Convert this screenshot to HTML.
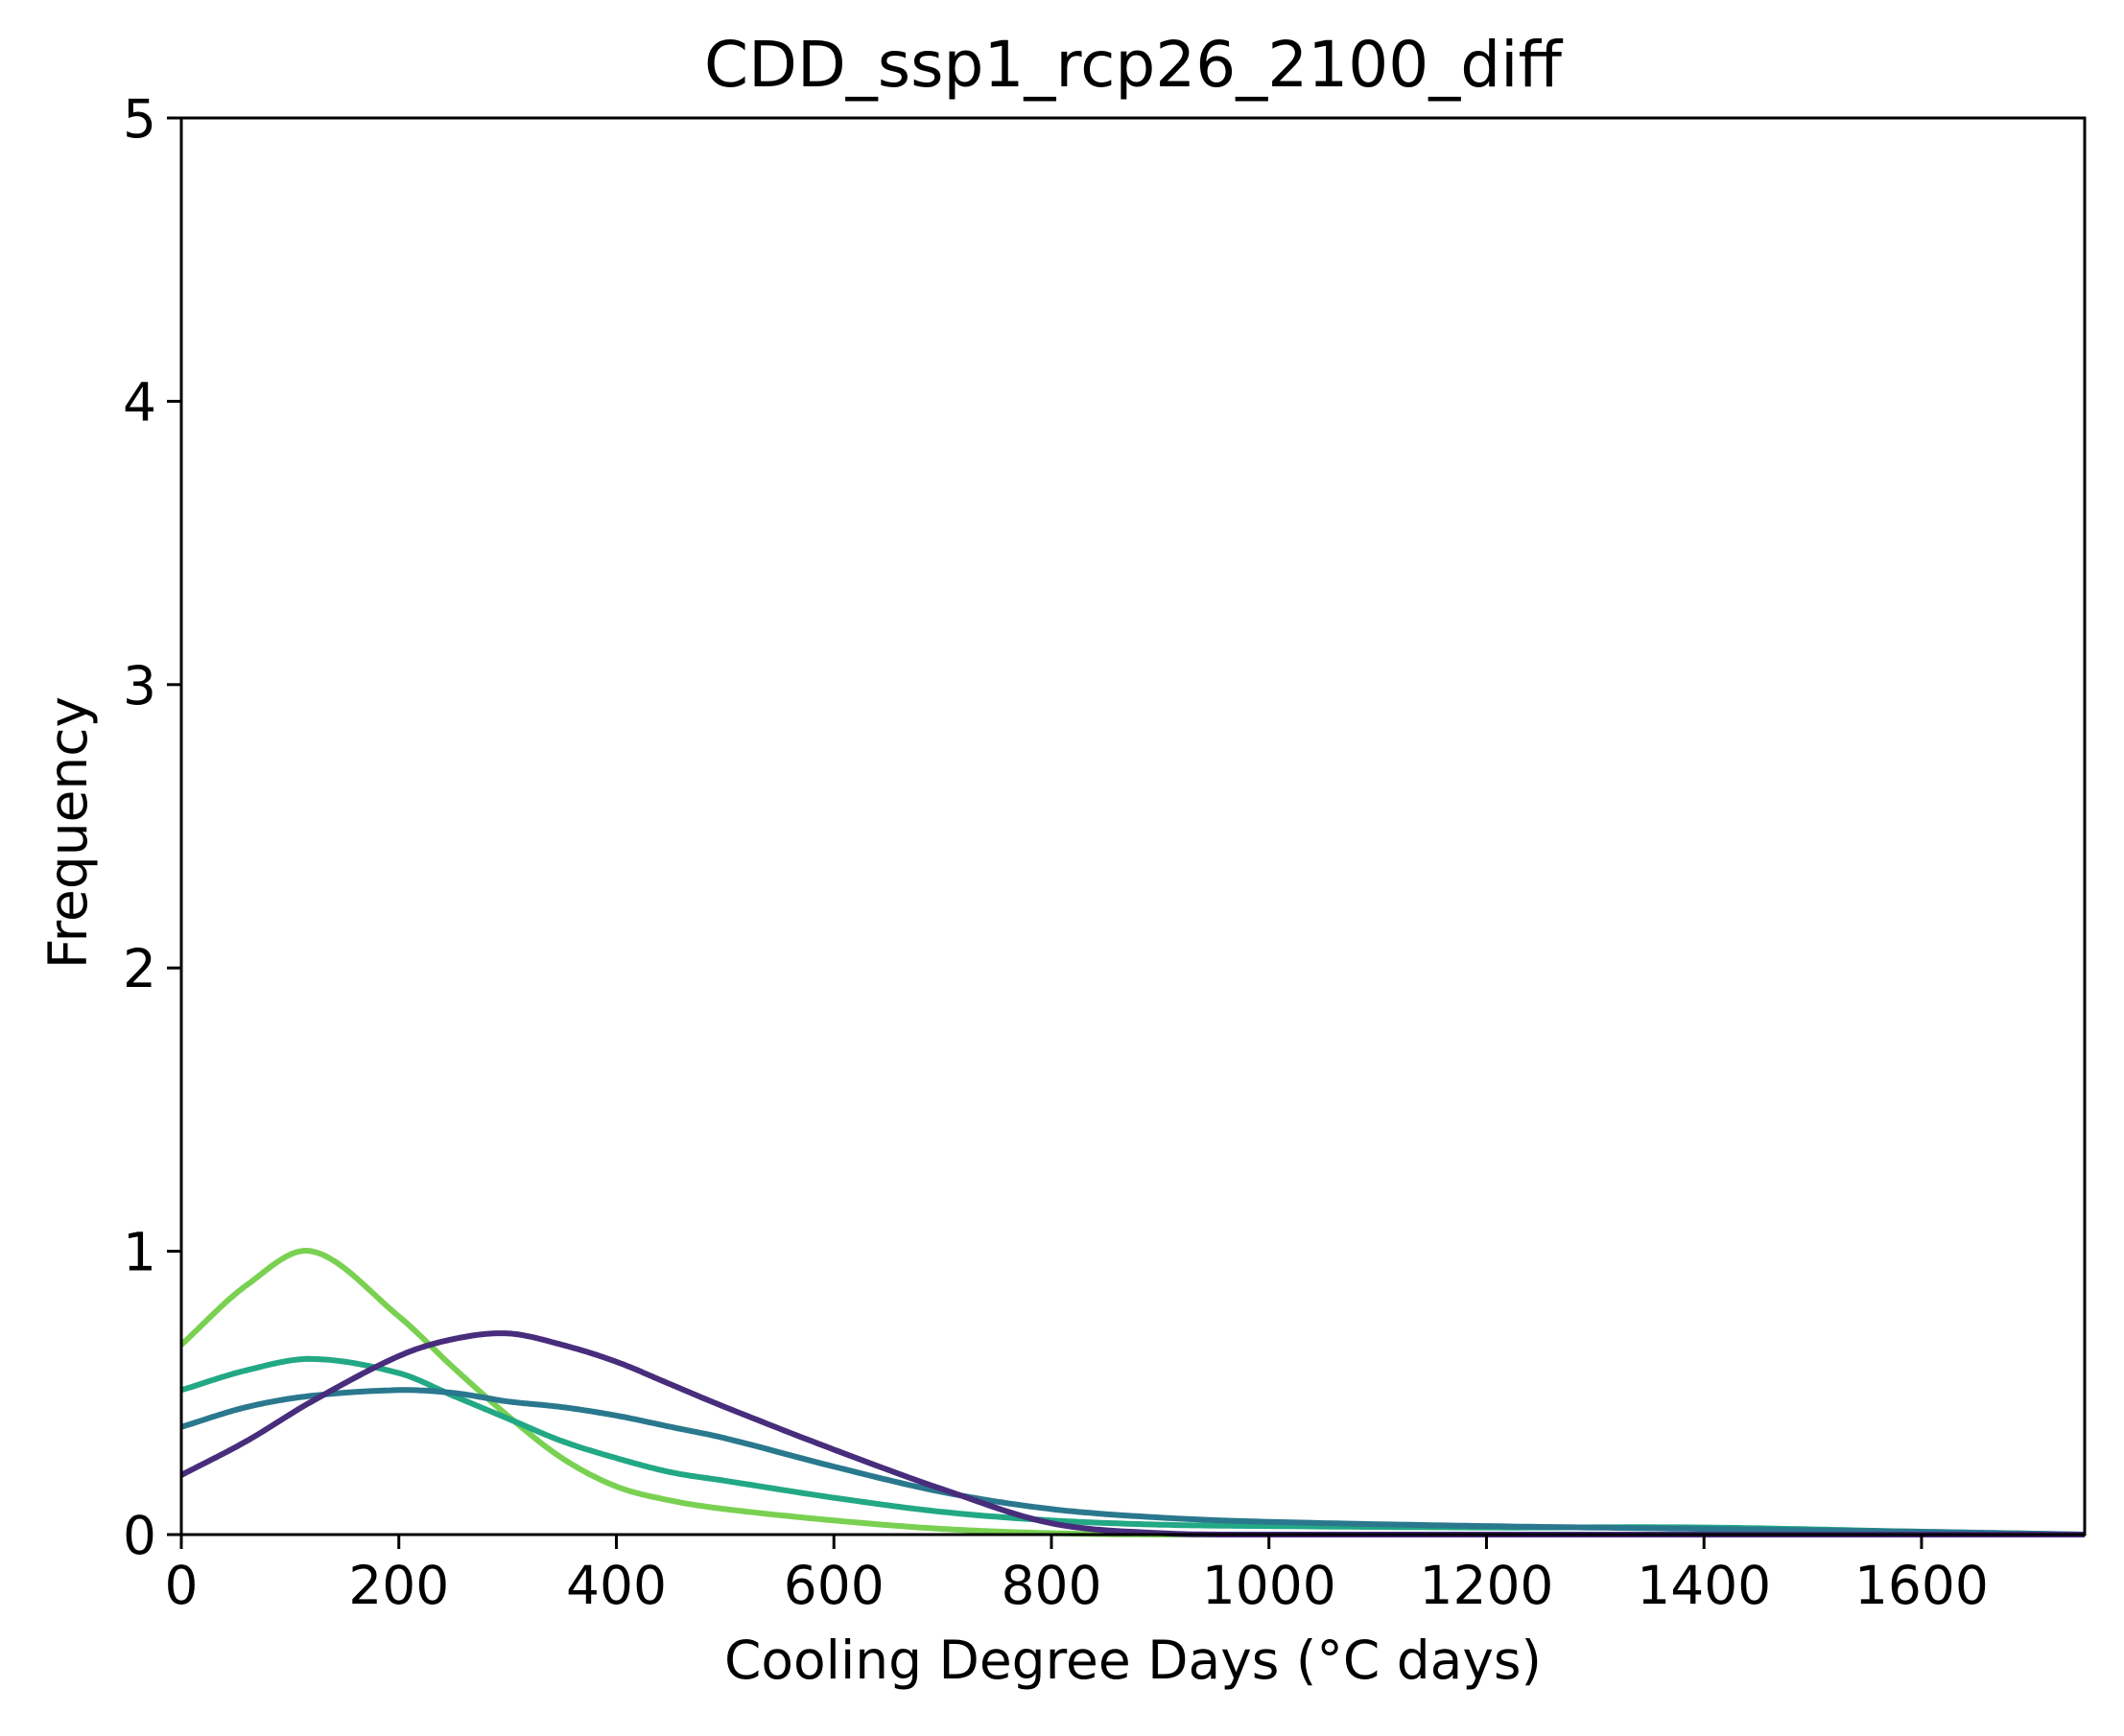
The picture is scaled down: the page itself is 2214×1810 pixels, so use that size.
<!DOCTYPE html>
<html><head><meta charset="utf-8"><style>
html,body{margin:0;padding:0;background:#fff;}
svg{display:block;font-family:"DejaVu Sans","Liberation Sans",sans-serif;}
</style></head><body>
<svg id="chart" width="2214" height="1810" viewBox="0 0 2214 1810">
<text x="1181" y="90" font-size="66" text-anchor="middle">CDD_ssp1_rcp26_2100_diff</text>
<g id="curves"></g>
<g id="axes"></g>
<text x="1181" y="1750" font-size="55" text-anchor="middle">Cooling Degree Days (°C days)</text>
<text x="0" y="0" font-size="55" text-anchor="middle" transform="translate(90,868) rotate(-90)">Frequency</text>
</svg>
<script>
const xTicks=[0,200,400,600,800,1000,1200,1400,1600];
const yTicks=[0,1,2,3,4,5];
const xs=[0,60,120,200,250,300,350,400,450,500,600,700,800,900,1000,1200,1400,1600,1750];
const greenVals=[0.67,0.88,1.0,0.77,0.59,0.42,0.27,0.17,0.12,0.09,0.05,0.02,0.005,0.0,0.0,0.0,0.0,0.0,0.0];
const tealVals=[0.51,0.58,0.62,0.57,0.49,0.41,0.33,0.27,0.22,0.19,0.13,0.08,0.05,0.035,0.03,0.025,0.025,0.01,0.0];
const blueVals=[0.38,0.45,0.49,0.51,0.50,0.47,0.45,0.42,0.38,0.34,0.24,0.15,0.09,0.06,0.045,0.03,0.02,0.01,0.0];
const purpleVals=[0.21,0.33,0.47,0.63,0.69,0.71,0.67,0.61,0.53,0.45,0.30,0.16,0.04,0.005,0.0,0.0,0.0,0.0,0.0];
const L=189,R=2173,T=123,B=1600,XMAX=1750,YMAX=5;
const sx=v=>L+(v/XMAX)*(R-L);
const sy=v=>B-(v/YMAX)*(B-T);
const NS="http://www.w3.org/2000/svg";
const curves=document.getElementById('curves');
const axes=document.getElementById('axes');
function pathFor(vals){
  const n=xs.length;
  const at=(i)=>[xs[Math.max(0,Math.min(n-1,i))],vals[Math.max(0,Math.min(n-1,i))]];
  let pts=[];
  for(let i=0;i<n-1;i++){
    const p0=at(i-1),p1=at(i),p2=at(i+1),p3=at(i+2);
    const t1=(i==0)?(p2[1]-p1[1])/(p2[0]-p1[0]):(p2[1]-p0[1])/(p2[0]-p0[0]);
    const t2=(i==n-2)?(p2[1]-p1[1])/(p2[0]-p1[0]):(p3[1]-p1[1])/(p3[0]-p1[0]);
    const h=p2[0]-p1[0];
    for(let k=0;k<20;k++){
      const t=k/20,h00=2*t*t*t-3*t*t+1,h10=t*t*t-2*t*t+t,h01=-2*t*t*t+3*t*t,h11=t*t*t-t*t;
      const y=h00*p1[1]+h10*h*t1+h01*p2[1]+h11*h*t2;
      pts.push([sx(p1[0]+t*h),sy(Math.max(0,y))]);
    }
  }
  pts.push([sx(xs[n-1]),sy(vals[n-1])]);
  return "M"+pts.map(p=>p[0].toFixed(1)+","+p[1].toFixed(1)).join(" L");
}
const series=[[greenVals,"#7ad151","curve-green"],[tealVals,"#22a884","curve-teal"],[blueVals,"#2a788e","curve-blue"],[purpleVals,"#472d7b","curve-purple"]];
series.forEach(s=>{
  const el=document.createElementNS(NS,'path');
  el.setAttribute('d',pathFor(s[0]));
  el.setAttribute('fill','none');el.setAttribute('stroke',s[1]);el.setAttribute('stroke-width','6');
  el.setAttribute('stroke-linejoin','round');
  
  
  curves.appendChild(el);
});
const frame=document.createElementNS(NS,'rect');
frame.setAttribute('x',L);frame.setAttribute('y',T);frame.setAttribute('width',R-L);frame.setAttribute('height',B-T);
frame.setAttribute('fill','none');frame.setAttribute('stroke','#000');frame.setAttribute('stroke-width','3');


axes.appendChild(frame);
xTicks.forEach(v=>{
  const t=document.createElementNS(NS,'line');
  t.setAttribute('x1',sx(v));t.setAttribute('x2',sx(v));t.setAttribute('y1',B);t.setAttribute('y2',B+15);
  t.setAttribute('stroke','#000');t.setAttribute('stroke-width','3');
  
  
  axes.appendChild(t);
  const tx=document.createElementNS(NS,'text');
  tx.setAttribute('x',sx(v));tx.setAttribute('y',B+72);tx.setAttribute('font-size','55');tx.setAttribute('text-anchor','middle');
  tx.textContent=v;
  
  
  axes.appendChild(tx);
});
yTicks.forEach(v=>{
  const t=document.createElementNS(NS,'line');
  t.setAttribute('x1',L-15);t.setAttribute('x2',L);t.setAttribute('y1',sy(v));t.setAttribute('y2',sy(v));
  t.setAttribute('stroke','#000');t.setAttribute('stroke-width','3');
  
  
  axes.appendChild(t);
  const tx=document.createElementNS(NS,'text');
  tx.setAttribute('x',L-26);tx.setAttribute('y',sy(v)+20);tx.setAttribute('font-size','55');tx.setAttribute('text-anchor','end');
  tx.textContent=v;
  
  
  axes.appendChild(tx);
});
</script>
</body></html>
